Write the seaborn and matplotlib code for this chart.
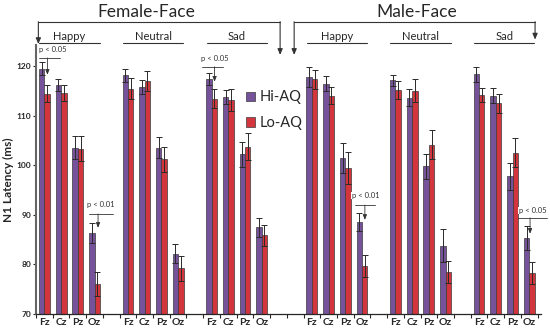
import numpy as np
import pandas as pd
import seaborn as sns
import matplotlib.pyplot as plt
from matplotlib.lines import Line2D

# values (ms)
faces = ["Female", "Male"]
emotions = ["Happy", "Neutral", "Sad"]
electrodes = ["Fz", "Cz", "Pz", "Oz"]
groups = ["Hi-AQ", "Lo-AQ"]

hi_mean = [119.5, 116.3, 103.6, 86.3,  118.2, 115.8, 103.6, 82.2,  117.4, 113.8, 102.2, 87.5,
           117.8, 116.5, 101.5, 88.5,  117.2, 113.7, 99.8, 83.8,   118.4, 114.1, 97.8, 85.3]
lo_mean = [114.5, 114.6, 103.4, 76.0,  115.5, 117.0, 101.2, 79.2,  113.5, 113.2, 103.8, 85.9,
           117.4, 114.1, 99.5, 79.7,   115.3, 115.1, 104.2, 78.4,  114.2, 112.5, 102.6, 78.3]
hi_err = [1.3, 1.2, 2.4, 2.0,  1.3, 1.4, 2.2, 2.0,  1.2, 1.4, 2.6, 1.9,
          2.0, 1.5, 3.0, 1.8,  1.1, 1.7, 2.6, 3.4,  1.5, 1.6, 2.7, 2.4]
lo_err = [1.8, 1.7, 2.6, 2.4,  2.1, 2.0, 2.6, 2.6,  2.0, 2.3, 2.7, 2.1,
          1.9, 1.8, 3.2, 2.2,  1.8, 2.4, 2.9, 2.2,  1.5, 1.9, 3.0, 2.2]

# significance marks: (text x, text y, line x0, line x1, line y, arrow x, arrow tip y, label)
sig = [(0.5, 122.7, -0.3, 0.95, 121.7, 0.18, 118.3, "p < 0.05"),
       (10.2, 120.9, 9.4, 10.7, 119.9, 10.18, 116.9, "p < 0.05"),
       (3.35, 91.4, 2.68, 4.1, 90.2, 3.21, 87.4, "p < 0.01"),
       (19.2, 93.2, 18.6, 19.8, 92.0, 19.17, 89.0, "p < 0.01"),
       (29.2, 90.2, 28.3, 30.05, 89.4, 29.05, 86.2, "p < 0.05")]

# category order with empty slots between the panels
order = []
rows = []
k = 0
for fi, f in enumerate(faces):
    for ei, e in enumerate(emotions):
        if order:
            order.append(f"gap{len(order)}")
            if ei == 0:
                order.append(f"gap{len(order)}")
        for el in electrodes:
            cat = f"{f}-{e}-{el}"
            order.append(cat)
            rows.append((cat, el, "Hi-AQ", hi_mean[k], hi_err[k]))
            rows.append((cat, el, "Lo-AQ", lo_mean[k], lo_err[k]))
            k += 1
df = pd.DataFrame(rows, columns=["cat", "electrode", "group", "latency", "err"])

purple = "#7446a6"
red = "#ec1c24"

sns.set_style("ticks")
plt.rcParams["font.family"] = ["Lato", "DejaVu Sans"]

fig = plt.figure(figsize=(5.5, 3.32), dpi=100)
ax = fig.add_axes([0.0655, 0.0542, 0.918, 0.8102])

sns.barplot(data=df, x="cat", y="latency", hue="group", order=order, hue_order=groups,
            palette={"Hi-AQ": purple, "Lo-AQ": red}, width=0.65, errorbar=None,
            edgecolor="#3a3a3a", linewidth=0.5, ax=ax)

# error bars, matched to the bars seaborn drew
errs = df.set_index(["cat", "group"])["err"]
for g, cont in zip(groups, ax.containers):
    for bar in cont:
        xc = bar.get_x() + bar.get_width() / 2
        cat = order[int(round(xc))]
        ax.errorbar(xc, bar.get_height(), yerr=errs[(cat, g)], fmt="none",
                    ecolor="#2a2a2a", elinewidth=0.7, capsize=2, capthick=0.7)

ax.set_ylim(70, 124.3)
ax.set_xlim(-0.4, len(order) - 0.3)
ax.set_yticks([70, 80, 90, 100, 110, 120])
ax.set_yticklabels(["70", "80", "90", "100", "110", "120"], fontsize=6, fontweight="bold")
ax.set_xticks(range(len(order)))
ax.set_xticklabels([c.split("-")[-1] if not c.startswith("gap") else "" for c in order],
                   fontsize=7.5, fontweight="bold")
ax.set_xticks(np.arange(-0.5, len(order), 1.0), minor=True)
ax.tick_params(axis="x", which="major", length=0, pad=3)
ax.tick_params(axis="x", which="minor", length=3, width=0.8)
ax.tick_params(axis="y", length=2.5, width=0.8, pad=1)
ax.set_xlabel("")
ax.set_ylabel("N1 Latency (ms)", fontsize=8.5, fontweight="bold", labelpad=2)
sns.despine(ax=ax)
ax.spines["left"].set_color("#666666")
ax.spines["left"].set_linewidth(1.5)
ax.spines["bottom"].set_linewidth(0.9)

ax.legend(loc="upper left", bbox_to_anchor=(0.39, 0.88), frameon=False, fontsize=10.5,
          handlelength=0.6, handleheight=0.6, handletextpad=0.35, labelspacing=0.8)

# brackets and headings above the bars
kw = dict(color="#333333", lw=0.8, clip_on=False)
ybr = 129.0
for x0, x1, d0, d1, title, tx in [(-0.36, 14.1, 124.5, 122.3, "Female-Face", 6.1),
                                  (14.94, 29.35, 122.3, 125.4, "Male-Face", 22.3)]:
    ax.add_line(Line2D([x0, x1], [ybr, ybr], **kw))
    for xa, ya in [(x0, d0), (x1, d1)]:
        ax.annotate("", xy=(xa, ya), xytext=(xa, ybr), annotation_clip=False,
                    arrowprops=dict(arrowstyle="-|>,head_length=0.35,head_width=0.15",
                                    color="#333333", lw=0.8, shrinkA=0, shrinkB=0))
    ax.text(tx, 131.0, title, ha="center", va="center", fontsize=12.5, clip_on=False)

for f in faces:
    for e in emotions:
        idx = [i for i, c in enumerate(order) if c.startswith(f"{f}-{e}-")]
        cx = np.mean(idx)
        ax.add_line(Line2D([cx - 1.8, cx + 1.8], [124.75, 124.75], **kw))
        ax.text(cx, 125.0, e, ha="center", va="bottom", fontsize=8, clip_on=False)

for tx, ty, lx0, lx1, ly, axx, tip, lab in sig:
    ax.text(tx, ty, lab, ha="center", va="bottom", fontsize=5.5, color="#333333",
            zorder=6, clip_on=False,
            bbox=dict(facecolor="white", edgecolor="none", pad=0.3))
    ax.plot([lx0, lx1], [ly, ly], color="#333333", lw=0.6, clip_on=False, zorder=6)
    ax.annotate("", xy=(axx, tip), xytext=(axx, ly), annotation_clip=False, zorder=6,
                arrowprops=dict(arrowstyle="-|>,head_length=0.3,head_width=0.12",
                                color="#333333", lw=0.6, shrinkA=0, shrinkB=0))

fig.savefig("out.png", dpi=100)
